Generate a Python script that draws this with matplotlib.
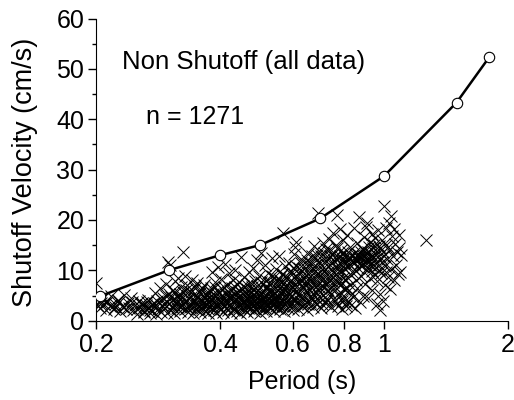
import matplotlib
matplotlib.use("Agg")
import matplotlib.pyplot as plt
import numpy as np

plt.rcParams["font.family"] = ["Liberation Sans", "DejaVu Sans"]

# upper limit curve
line_period = [0.205, 0.3, 0.4, 0.5, 0.7, 1.0, 1.5, 1.8]
line_vel = [4.9, 10.0, 13.0, 15.0, 20.3, 28.7, 43.3, 52.3]

short_pts = [
    (0.2, 7.5), (0.201, 3.1), (0.203, 3.9), (0.204, 2.6), (0.207, 4.4), (0.209, 3.3), (0.211, 2.2), (0.213, 3.7),
    (0.216, 2.9), (0.218, 4.9), (0.221, 2.4), (0.223, 3.4), (0.226, 4.1), (0.229, 1.9), (0.231, 3.0), (0.234, 5.1),
    (0.237, 2.3), (0.239, 3.6), (0.243, 4.5), (0.246, 2.1), (0.249, 3.2), (0.251, 1.4), (0.254, 4.0), (0.256, 2.7),
    (0.258, 3.5), (0.261, 1.7), (0.263, 2.5), (0.265, 3.1), (0.268, 4.2), (0.27, 1.5), (0.271, 2.2), (0.273, 3.4),
    (0.276, 2.8), (0.278, 5.5), (0.279, 1.3), (0.281, 3.9), (0.283, 2.4), (0.286, 6.4), (0.288, 1.8), (0.289, 3.2),
    (0.291, 4.6), (0.293, 2.6), (0.295, 7.2), (0.297, 1.6), (0.298, 3.7), (0.299, 11.6), (0.3, 5.3), (0.302, 2.2),
    (0.303, 11.0), (0.305, 4.2), (0.306, 3.0), (0.308, 6.1), (0.309, 1.5), (0.311, 7.8), (0.312, 3.6), (0.314, 2.5),
    (0.315, 5.0), (0.317, 8.4), (0.318, 4.4), (0.32, 1.9), (0.321, 6.6), (0.323, 3.1), (0.325, 13.7), (0.326, 5.6),
    (0.328, 2.3), (0.329, 8.9), (0.331, 4.0), (0.332, 7.1), (0.334, 1.7), (0.336, 3.4), (0.337, 5.9), (0.339, 2.7),
    (0.341, 4.8), (0.342, 8.0), (0.344, 1.5), (0.346, 3.7), (0.347, 6.4), (0.349, 2.4), (0.35, 5.2), (0.352, 7.5),
]
mid_pts = [
    (0.354, 3.0), (0.356, 4.3), (0.358, 1.8), (0.359, 6.0), (0.361, 2.6), (0.363, 3.6), (0.365, 5.0), (0.366, 7.0),
    (0.368, 2.0), (0.37, 4.1), (0.372, 3.1), (0.373, 5.7), (0.375, 1.6), (0.377, 4.6), (0.378, 2.7), (0.38, 6.5),
    (0.382, 9.6), (0.383, 3.5), (0.385, 5.3), (0.387, 2.2), (0.389, 4.2), (0.39, 7.6), (0.392, 1.5), (0.393, 3.2),
    (0.395, 10.6), (0.396, 5.9), (0.398, 2.5), (0.4, 4.7), (0.401, 3.7), (0.403, 8.3), (0.405, 6.3), (0.406, 1.7),
    (0.408, 4.0), (0.41, 2.9), (0.411, 11.3), (0.413, 5.3), (0.415, 3.4), (0.416, 7.1), (0.418, 2.1), (0.42, 9.4),
    (0.421, 4.6), (0.423, 6.0), (0.425, 3.0), (0.426, 1.6), (0.428, 5.0), (0.43, 8.1), (0.431, 3.9), (0.433, 2.4),
    (0.435, 10.1), (0.436, 6.7), (0.438, 4.4), (0.44, 2.0), (0.441, 5.6), (0.443, 3.3), (0.445, 7.6), (0.447, 1.5),
    (0.448, 4.9), (0.45, 12.6), (0.452, 2.7), (0.453, 6.2), (0.455, 3.7), (0.457, 8.6), (0.459, 5.2), (0.46, 2.2),
    (0.462, 4.2), (0.464, 7.0), (0.466, 1.7), (0.468, 3.2), (0.47, 9.6), (0.472, 5.7), (0.473, 2.6), (0.475, 4.6),
    (0.477, 6.6), (0.479, 3.6), (0.481, 10.5), (0.483, 1.9), (0.485, 5.0), (0.487, 7.8), (0.489, 2.9), (0.491, 12.0),
    (0.492, 4.0), (0.494, 6.0), (0.496, 3.1), (0.498, 8.9), (0.5, 1.6), (0.502, 5.4), (0.504, 13.4), (0.506, 2.4),
    (0.508, 4.5), (0.51, 7.2), (0.512, 3.5), (0.514, 11.1), (0.516, 6.4), (0.518, 2.0), (0.52, 5.0), (0.522, 9.4),
    (0.524, 3.0), (0.526, 4.0), (0.528, 7.7), (0.53, 2.5), (0.532, 6.0), (0.534, 12.4), (0.536, 3.8), (0.538, 5.3),
    (0.54, 8.6), (0.542, 1.9), (0.544, 4.6), (0.546, 10.2), (0.548, 2.9), (0.55, 6.8), (0.552, 3.4), (0.554, 5.0),
    (0.556, 12.8), (0.558, 2.3), (0.56, 7.9), (0.562, 4.2), (0.564, 9.3), (0.566, 3.0), (0.568, 17.5), (0.57, 5.8),
    (0.572, 2.0), (0.574, 10.8), (0.576, 6.8), (0.578, 3.7), (0.58, 4.9), (0.583, 8.2), (0.585, 2.6), (0.587, 11.4),
    (0.59, 5.4), (0.592, 3.2), (0.595, 7.1), (0.597, 9.7), (0.6, 2.1), (0.602, 4.4), (0.604, 13.2), (0.606, 6.2),
    (0.608, 14.6), (0.61, 15.7), (0.612, 3.5), (0.614, 8.6), (0.617, 5.2), (0.619, 2.4), (0.622, 10.5), (0.624, 7.4),
    (0.627, 4.0), (0.63, 12.3), (0.632, 2.9), (0.635, 6.4), (0.637, 9.1), (0.64, 4.8), (0.642, 3.3), (0.645, 11.2),
]
long_pts = [
    (0.648, 7.8), (0.65, 2.2), (0.652, 5.6), (0.655, 13.3), (0.658, 9.7), (0.66, 3.8), (0.662, 6.9), (0.665, 11.5),
    (0.667, 4.6), (0.67, 8.4), (0.672, 2.7), (0.675, 14.8), (0.677, 10.2), (0.68, 5.9), (0.682, 12.6), (0.685, 7.2),
    (0.687, 3.4), (0.69, 21.3), (0.692, 9.2), (0.695, 4.9), (0.697, 13.8), (0.7, 6.4), (0.702, 11.0), (0.705, 2.5),
    (0.707, 8.1), (0.71, 15.4), (0.712, 5.2), (0.714, 12.2), (0.717, 9.8), (0.72, 3.6), (0.722, 7.0), (0.725, 14.2),
    (0.727, 4.2), (0.73, 10.8), (0.732, 6.0), (0.735, 16.3), (0.737, 8.8), (0.74, 12.9), (0.742, 2.8), (0.745, 5.3),
    (0.747, 11.6), (0.75, 7.6), (0.752, 17.4), (0.755, 9.5), (0.757, 13.4), (0.76, 4.0), (0.762, 6.6), (0.765, 15.0),
    (0.768, 21.0), (0.77, 10.5), (0.772, 3.0), (0.775, 8.2), (0.777, 12.4), (0.78, 5.6), (0.782, 18.2), (0.785, 14.0),
    (0.787, 7.3), (0.79, 2.4), (0.792, 9.9), (0.795, 16.0), (0.797, 4.5), (0.8, 11.5), (0.803, 6.2), (0.806, 13.0),
    (0.809, 2.9), (0.812, 8.7), (0.815, 17.0), (0.818, 10.8), (0.82, 4.0), (0.823, 12.6), (0.826, 7.0), (0.829, 14.6),
    (0.832, 3.2), (0.835, 9.6), (0.838, 5.4), (0.841, 11.8), (0.844, 13.4), (0.847, 18.4), (0.85, 2.6), (0.853, 8.0),
    (0.856, 12.2), (0.859, 15.4), (0.862, 6.4), (0.866, 10.4), (0.87, 20.6), (0.873, 3.8), (0.877, 12.8), (0.88, 8.8),
    (0.884, 14.2), (0.887, 5.0), (0.89, 11.4), (0.894, 16.6), (0.897, 12.4), (0.9, 7.2), (0.904, 18.6), (0.907, 10.0),
    (0.91, 19.4), (0.913, 13.6), (0.916, 4.6), (0.92, 11.8), (0.923, 15.6), (0.926, 8.4), (0.93, 12.6), (0.933, 17.2),
    (0.936, 6.0), (0.94, 10.6), (0.943, 14.4), (0.946, 12.0), (0.95, 9.0), (0.953, 16.4), (0.956, 13.0), (0.96, 3.4),
    (0.963, 7.8), (0.966, 18.0), (0.97, 11.0), (0.973, 14.8), (0.976, 5.4), (0.98, 2.2), (0.983, 12.4), (0.986, 9.4),
    (0.99, 16.0), (0.994, 4.0), (0.997, 13.6), (1.0, 22.8), (1.003, 7.0), (1.006, 10.8), (1.01, 18.4), (1.014, 15.0),
    (1.018, 12.2), (1.022, 8.6), (1.026, 19.4), (1.03, 14.0), (1.034, 6.2), (1.038, 20.8), (1.042, 10.2), (1.046, 16.8),
    (1.05, 12.8), (1.055, 8.0), (1.06, 18.2), (1.065, 15.2), (1.07, 11.0), (1.075, 13.6), (1.08, 9.2), (1.085, 17.0),
    (1.09, 14.4), (1.095, 9.6), (1.1, 13.0), (1.265, 16.0),
]
# the dark core of the cloud
core_low_pts = [
    (0.202, 2.9), (0.206, 3.5), (0.212, 4.0), (0.217, 3.2), (0.222, 2.7), (0.228, 3.7), (0.233, 2.8), (0.24, 2.6),
    (0.245, 3.8), (0.252, 2.4), (0.257, 3.3), (0.262, 2.0), (0.266, 3.7), (0.269, 2.6), (0.274, 1.9), (0.277, 3.6),
    (0.282, 2.9), (0.287, 4.3), (0.292, 3.4), (0.296, 5.0), (0.301, 3.3), (0.304, 4.8), (0.307, 2.6), (0.31, 5.6),
    (0.313, 4.1), (0.316, 3.2), (0.319, 5.4), (0.322, 2.8), (0.324, 4.6), (0.327, 3.8), (0.33, 6.1), (0.333, 2.5),
    (0.335, 4.5), (0.338, 3.2), (0.34, 5.6), (0.343, 2.9), (0.345, 4.2), (0.348, 6.9), (0.351, 3.4), (0.353, 4.7),
    (0.355, 2.4), (0.357, 5.5), (0.36, 3.9), (0.362, 6.4), (0.364, 2.9), (0.367, 4.5), (0.369, 3.3), (0.371, 5.2),
    (0.374, 2.3), (0.376, 3.8), (0.379, 5.9), (0.381, 4.4), (0.384, 2.8), (0.386, 3.9), (0.388, 6.7), (0.391, 4.9),
    (0.394, 3.0), (0.397, 5.5), (0.399, 4.1), (0.402, 2.3), (0.404, 5.0), (0.407, 3.4), (0.409, 6.6), (0.412, 4.5),
    (0.414, 2.6), (0.417, 3.8), (0.419, 5.7), (0.422, 3.1), (0.424, 4.9), (0.427, 6.5), (0.429, 2.4), (0.432, 4.2),
    (0.434, 5.4), (0.437, 3.3), (0.439, 7.2), (0.442, 4.6), (0.444, 2.7), (0.446, 5.9), (0.449, 3.6), (0.451, 4.3),
    (0.454, 6.8), (0.456, 2.5), (0.458, 4.0), (0.461, 5.5), (0.463, 3.1), (0.465, 6.2), (0.467, 4.4), (0.469, 2.6),
    (0.471, 5.1), (0.474, 3.8), (0.476, 7.4), (0.478, 4.9), (0.48, 3.0), (0.482, 6.1), (0.484, 4.1), (0.486, 2.3),
    (0.488, 5.6), (0.49, 3.5), (0.493, 6.9), (0.495, 4.6), (0.497, 2.7), (0.499, 5.2), (0.501, 3.9), (0.503, 7.6),
    (0.505, 4.2), (0.507, 3.0), (0.509, 6.0), (0.511, 5.0), (0.513, 2.5), (0.515, 4.0), (0.517, 8.0), (0.519, 3.3),
    (0.521, 6.6), (0.523, 4.5), (0.525, 5.7), (0.527, 2.8), (0.529, 7.0), (0.531, 3.9), (0.533, 5.0), (0.535, 8.8),
    (0.537, 4.4), (0.539, 3.0), (0.541, 6.3), (0.543, 5.5), (0.545, 3.6), (0.547, 7.5), (0.549, 4.2), (0.551, 2.6),
]
core_high_pts = [
    (0.553, 6.0), (0.555, 8.3), (0.557, 4.8), (0.559, 3.4), (0.561, 6.9), (0.563, 5.3), (0.565, 7.6), (0.567, 4.0),
    (0.569, 9.2), (0.571, 3.0), (0.573, 6.3), (0.575, 5.0), (0.577, 8.6), (0.579, 3.8), (0.581, 7.0), (0.584, 5.6),
    (0.586, 4.4), (0.588, 9.6), (0.591, 6.4), (0.594, 3.4), (0.596, 8.0), (0.599, 5.0), (0.601, 10.4), (0.603, 3.0),
    (0.605, 7.0), (0.607, 4.4), (0.609, 8.9), (0.611, 5.8), (0.613, 10.8), (0.616, 3.8), (0.618, 7.6), (0.621, 6.4),
    (0.623, 9.4), (0.626, 5.0), (0.628, 11.4), (0.631, 3.6), (0.633, 8.0), (0.636, 6.6), (0.638, 10.2), (0.641, 4.4),
    (0.643, 7.2), (0.646, 9.0), (0.649, 5.6), (0.651, 12.0), (0.654, 3.4), (0.656, 8.4), (0.659, 6.2), (0.661, 10.8),
    (0.664, 4.6), (0.666, 7.8), (0.669, 12.8), (0.671, 9.4), (0.674, 5.4), (0.676, 3.8), (0.678, 8.0), (0.681, 11.0),
    (0.684, 6.6), (0.686, 13.0), (0.689, 9.0), (0.691, 4.2), (0.694, 7.4), (0.696, 11.6), (0.699, 5.6), (0.701, 8.8),
    (0.704, 12.8), (0.706, 3.4), (0.709, 10.2), (0.711, 6.8), (0.713, 9.0), (0.716, 13.4), (0.719, 4.8), (0.721, 11.4),
    (0.724, 7.8), (0.726, 12.2), (0.729, 5.8), (0.731, 9.6), (0.734, 3.2), (0.736, 14.0), (0.739, 8.0), (0.741, 11.0),
    (0.744, 6.4), (0.746, 10.0), (0.749, 13.0), (0.751, 4.4), (0.754, 8.6), (0.756, 11.8), (0.759, 6.0), (0.761, 12.6),
    (0.764, 9.2), (0.767, 3.6), (0.769, 7.6), (0.771, 14.4), (0.774, 11.0), (0.776, 5.0), (0.779, 9.8), (0.781, 12.8),
    (0.784, 7.0), (0.786, 11.2), (0.789, 4.0), (0.791, 13.4), (0.794, 8.4), (0.796, 12.0), (0.799, 6.2), (0.802, 10.4),
    (0.805, 12.6), (0.808, 8.0), (0.811, 3.6), (0.814, 11.6), (0.817, 13.6), (0.821, 6.0), (0.825, 11.0), (0.828, 12.4),
    (0.831, 9.0), (0.836, 12.8), (0.84, 4.8), (0.845, 11.4), (0.85, 12.6), (0.855, 9.8), (0.86, 12.0), (0.865, 13.2),
    (0.87, 11.2), (0.875, 12.4), (0.88, 13.6), (0.885, 10.8), (0.89, 12.8), (0.895, 14.0), (0.9, 11.6), (0.905, 13.0),
    (0.91, 10.4), (0.915, 12.2), (0.92, 14.6), (0.925, 11.0), (0.93, 13.2), (0.935, 9.8), (0.94, 12.6), (0.945, 15.0),
    (0.95, 11.4), (0.96, 13.8), (0.97, 10.0), (0.98, 14.4), (0.99, 11.6), (1.0, 12.8), (1.01, 9.6), (1.02, 14.6),
]

x_ticks = [0.2, 0.4, 0.6, 0.8, 1, 2]
x_labels = ["0.2", "0.4", "0.6", "0.8", "1", "2"]

all_pts = np.array(short_pts + mid_pts + long_pts + core_low_pts + core_high_pts)

fig = plt.figure(figsize=(5.14, 4.0), dpi=100)
ax = fig.add_axes([96 / 514, 1 - 320.7 / 400, (508 - 96) / 514, (320.7 - 18.5) / 400])

ax.plot(all_pts[:, 0], all_pts[:, 1], "x", color="black", ms=8.5, mew=0.7, zorder=2)
ax.plot(line_period, line_vel, "-", color="black", lw=1.8, zorder=3)
ax.plot(line_period, line_vel, "o", mfc="white", mec="black", mew=0.8, ms=7.5, zorder=4)

ax.set_xscale("log")
ax.set_xlim(0.2, 2)
ax.set_ylim(0, 60)
ax.set_xticks(x_ticks)
ax.set_xticklabels(x_labels)
ax.minorticks_off()
ax.set_yticks(range(0, 61, 10))
ax.set_yticks(range(5, 60, 10), minor=True)

ax.spines["top"].set_visible(False)
ax.spines["right"].set_visible(False)
ax.tick_params(which="major", length=5.5, width=1, labelsize=18, pad=3)
ax.tick_params(axis="y", which="minor", length=3, width=1)

ax.set_xlabel("Period (s)", fontsize=18, labelpad=10)
fig.text(25 / 514, 1 - 172 / 400, "Shutoff Velocity (cm/s)", fontsize=19.5, rotation=90,
         ha="center", va="center")

ax.text(0.063, 0.818, "Non Shutoff (all data)", transform=ax.transAxes, fontsize=18.5, va="bottom")
ax.text(0.122, 0.635, "n = 1271", transform=ax.transAxes, fontsize=18, va="bottom")

fig.savefig("out.png", dpi=100)
